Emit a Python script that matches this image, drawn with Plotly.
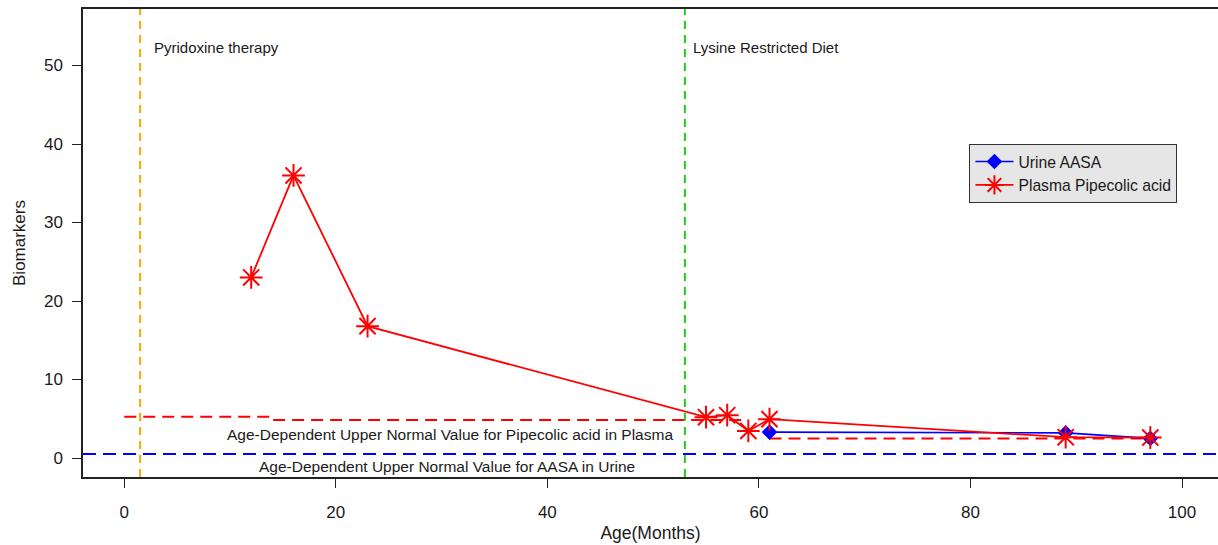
import plotly.graph_objects as go

# ---- data ----
plasma_age = [12, 16, 23, 55, 57, 59, 61, 89, 97]
plasma_pipecolic = [23.0, 36.0, 16.8, 5.2, 5.45, 3.45, 4.95, 2.65, 2.6]

urine_age = [61, 89, 97]
urine_aasa = [3.3, 3.2, 2.5]

pip_ref_age = [0, 14, 14, 59, None, 61, 97]
pip_ref_val = [5.25, 5.25, 4.85, 4.85, None, 2.5, 2.5]

aasa_ref_val = 0.5
pyridoxine_start = 1.5
lysine_diet_start = 53

x_ticks = [0, 20, 40, 60, 80, 100]
y_ticks = [0, 10, 20, 30, 40, 50]

FONT = "Liberation Sans, Arial, sans-serif"
TXT = "#1a1a1a"

fig = go.Figure()

# reference line for pipecolic acid (dashed red)
fig.add_trace(go.Scatter(
    x=pip_ref_age, y=pip_ref_val, mode="lines",
    line=dict(color="#ff0000", width=2, dash="12px,7px"),
    showlegend=False, hoverinfo="skip", connectgaps=False))

fig.add_trace(go.Scatter(
    x=urine_age, y=urine_aasa, mode="lines+markers", name="Urine AASA",
    line=dict(color="#0000ff", width=1.6),
    marker=dict(symbol="diamond", size=12, color="#0000ff")))

fig.add_trace(go.Scatter(
    x=plasma_age, y=plasma_pipecolic, mode="lines+markers",
    name="Plasma Pipecolic acid",
    line=dict(color="#ff0000", width=1.8),
    marker=dict(symbol="asterisk-open", size=19,
                line=dict(color="#ff0000", width=2))))

# vertical therapy lines and AASA reference
fig.add_vline(x=pyridoxine_start, line=dict(color="#ffa500", width=2, dash="8px,6px"))
fig.add_vline(x=lysine_diet_start, line=dict(color="#22cc22", width=2, dash="8px,6px"))
fig.add_hline(y=aasa_ref_val, line=dict(color="#0000ff", width=2, dash="13px,7px"))

ann_font = dict(family=FONT, size=15, color=TXT)
ann_font2 = dict(family=FONT, size=15.5, color=TXT)
fig.add_annotation(x=2.6, y=52.3, text="Pyridoxine therapy", showarrow=False,
                   xanchor="left", yanchor="middle", font=ann_font)
fig.add_annotation(x=53.6, y=52.3, text="Lysine Restricted Diet", showarrow=False,
                   xanchor="left", yanchor="middle", font=ann_font)
fig.add_annotation(x=30.8, y=3.0,
                   text="Age-Dependent Upper Normal Value for Pipecolic acid in Plasma",
                   showarrow=False, xanchor="center", yanchor="middle", font=ann_font2)
fig.add_annotation(x=30.5, y=-1.1,
                   text="Age-Dependent Upper Normal Value for AASA in Urine",
                   showarrow=False, xanchor="center", yanchor="middle", font=ann_font2)

fig.update_layout(
    width=1218, height=545,
    margin=dict(l=83, r=0, t=9, b=68),
    paper_bgcolor="white", plot_bgcolor="white",
    font=dict(family=FONT, size=17, color=TXT),
    showlegend=True,
    legend=dict(x=0.781, y=0.712, xanchor="left", yanchor="top",
                bgcolor="#e6e6e6", bordercolor="#333333", borderwidth=1,
                font=dict(family=FONT, size=15.7, color=TXT),
                itemwidth=38, tracegroupgap=0),
)

fig.update_xaxes(
    range=[-3.9, 103.4], tickvals=x_ticks, ticktext=[str(v) for v in x_ticks],
    showgrid=False, zeroline=False, showline=True, linecolor="#222", linewidth=1.5,
    mirror=True, ticks="outside", ticklen=9, tickcolor="#222",
    ticklabelstandoff=10,
    title=dict(text="Age(Months)", font=dict(family=FONT, size=17.5, color=TXT), standoff=6),
)
fig.update_yaxes(
    range=[-2.42, 57.2], tickvals=y_ticks, ticktext=[str(v) for v in y_ticks],
    showgrid=False, zeroline=False, showline=True, linecolor="#222", linewidth=1.5,
    ticks="outside", ticklen=9, tickcolor="#222",
    ticklabelstandoff=6,
    title=dict(text="Biomarkers", font=dict(family=FONT, size=17, color=TXT), standoff=14),
)

fig.write_html("out.html", config={"displayModeBar": False},
               post_script="document.body.style.margin='0';")
